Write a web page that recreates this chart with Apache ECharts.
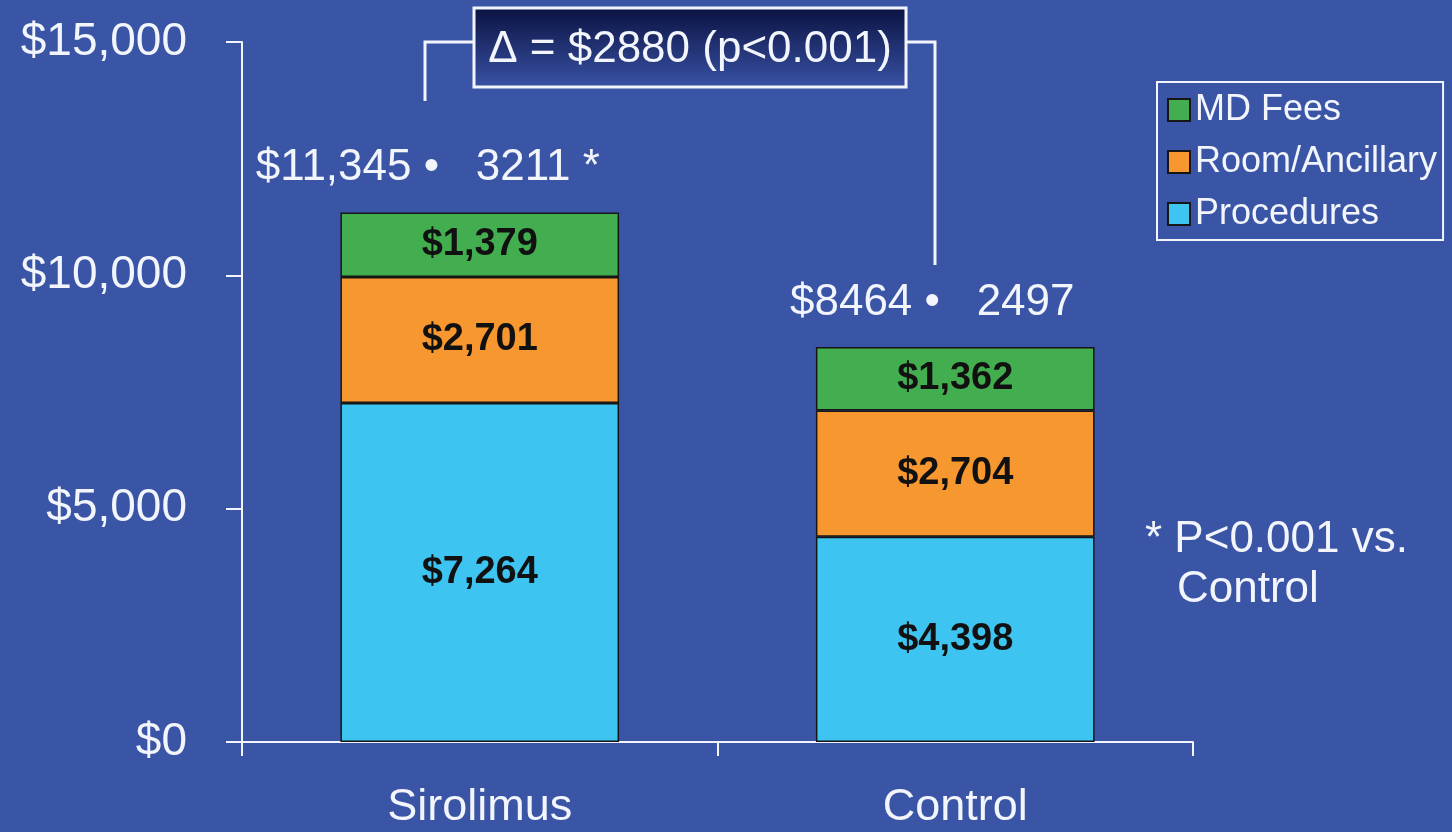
<!DOCTYPE html>
<html>
<head>
<meta charset="utf-8">
<title>Hospital costs: Sirolimus vs Control</title>
<script src="https://cdn.jsdelivr.net/npm/echarts@6/dist/echarts.min.js"></script>
<style>
  html, body { margin: 0; padding: 0; background: #3b55a6; }
  #chart { width: 1452px; height: 832px; }
</style>
</head>
<body>
<div id="chart"></div>
<script>
// Cost components per group (US dollars)
const categories = ['Sirolimus', 'Control'];
const procedures = [7264, 4398];
const roomAncillary = [2701, 2704];
const mdFees = [1379, 1362];
// Reported totals and standard deviations
const totals = [11345, 8464];
const sds = [3211, 2497];
const significance = ['*', ''];
// Y axis ticks
const yTicks = [0, 5000, 10000, 15000];

const FONT = '"Liberation Sans", Arial, sans-serif';
const WHITE = '#f2f5fb';
const BG = '#3b55a6';

const money = v => '$' + Number(v).toLocaleString('en-US');
const moneyTotal = v => '$' + (v >= 10000 ? Number(v).toLocaleString('en-US') : String(v));

const barLabel = {
  show: true,
  position: 'inside',
  color: '#111111',
  fontFamily: FONT,
  fontWeight: 'bold',
  fontSize: 38,
  formatter: p => money(p.value)
};
const barBorder = { borderColor: '#161616', borderWidth: 1.5 };

const totalOffsets = [[-52, 0], [-23, 0]];

const chart = echarts.init(document.getElementById('chart'));
chart.setOption({
  backgroundColor: BG,
  animation: false,
  textStyle: { fontFamily: FONT },
  grid: { left: 242, right: 259, top: 42, bottom: 90, containLabel: false },
  legend: {
    data: ['MD Fees', 'Room/Ancillary', 'Procedures'],
    orient: 'vertical',
    left: 1157,
    top: 82,
    padding: [10, 6, 8, 10],
    itemGap: 16,
    itemWidth: 22,
    itemHeight: 22,
    itemTextGap: 12,
    icon: 'rect',
    borderColor: WHITE,
    borderWidth: 2,
    textStyle: { color: WHITE, fontSize: 36, fontFamily: FONT }
  },
  xAxis: {
    type: 'category',
    data: categories,
    boundaryGap: true,
    axisLine: { show: true, lineStyle: { color: WHITE, width: 2 } },
    axisTick: { show: true, length: 14, interval: 0, lineStyle: { color: WHITE, width: 2 } },
    axisLabel: { color: WHITE, fontSize: 45, fontFamily: FONT, margin: 43, interval: 0 }
  },
  yAxis: {
    type: 'value',
    min: yTicks[0],
    max: yTicks[yTicks.length - 1],
    interval: yTicks[1] - yTicks[0],
    axisLine: { show: true, lineStyle: { color: WHITE, width: 2 } },
    axisTick: { show: true, length: 16, lineStyle: { color: WHITE, width: 2 } },
    axisLabel: {
      color: WHITE, fontSize: 46, fontFamily: FONT, margin: 55,
      padding: [8, 0, 0, 0],
      formatter: v => money(v)
    },
    splitLine: { show: false }
  },
  series: [
    {
      name: 'Procedures', type: 'bar', stack: 'cost', barWidth: '58.6%',
      data: procedures,
      itemStyle: Object.assign({ color: '#3ec4f0' }, barBorder),
      label: barLabel
    },
    {
      name: 'Room/Ancillary', type: 'bar', stack: 'cost',
      data: roomAncillary,
      itemStyle: Object.assign({ color: '#f7972f' }, barBorder),
      label: barLabel
    },
    {
      name: 'MD Fees', type: 'bar', stack: 'cost',
      data: mdFees,
      itemStyle: Object.assign({ color: '#43ae4f' }, barBorder),
      label: barLabel
    },
    {
      name: 'Total', type: 'scatter',
      symbolSize: 1,
      itemStyle: { color: 'rgba(0,0,0,0)', opacity: 1 },
      data: totals.map((t, i) => ({
        value: t,
        label: { offset: totalOffsets[i] }
      })),
      label: {
        show: true,
        position: 'top',
        distance: 22,
        color: WHITE,
        opacity: 1,
        fontSize: 44,
        fontFamily: FONT,
        formatter: p => {
          const i = p.dataIndex;
          return moneyTotal(totals[i]) + ' \u2022   ' + sds[i] + (significance[i] ? ' ' + significance[i] : '');
        }
      },
      z: 5
    }
  ],
  graphic: [
    // bracket joining the two totals
    {
      type: 'polyline',
      shape: { points: [[425, 101], [425, 42], [474, 42]] },
      style: { stroke: WHITE, lineWidth: 3, fill: null }
    },
    {
      type: 'polyline',
      shape: { points: [[906, 42], [935, 42], [935, 265]] },
      style: { stroke: WHITE, lineWidth: 3, fill: null }
    },
    {
      type: 'rect',
      shape: { x: 474, y: 8, width: 432, height: 79 },
      style: {
        fill: new echarts.graphic.LinearGradient(0, 0, 0, 1, [
          { offset: 0, color: '#0a1140' },
          { offset: 1, color: '#3a53a6' }
        ]),
        stroke: WHITE,
        lineWidth: 3
      },
      z: 10
    },
    {
      type: 'text',
      x: 690, y: 50,
      style: {
        text: '\u0394 = $2880 (p<0.001)',
        fill: WHITE,
        font: '44px ' + FONT,
        align: 'center',
        verticalAlign: 'middle'
      },
      z: 11
    },
    // footnote
    {
      type: 'text',
      x: 1145, y: 540,
      style: { text: '* P<0.001 vs.', fill: WHITE, font: '44px ' + FONT, verticalAlign: 'middle' }
    },
    {
      type: 'text',
      x: 1177, y: 590,
      style: { text: 'Control', fill: WHITE, font: '44px ' + FONT, verticalAlign: 'middle' }
    }
  ]
});
</script>
</body>
</html>
